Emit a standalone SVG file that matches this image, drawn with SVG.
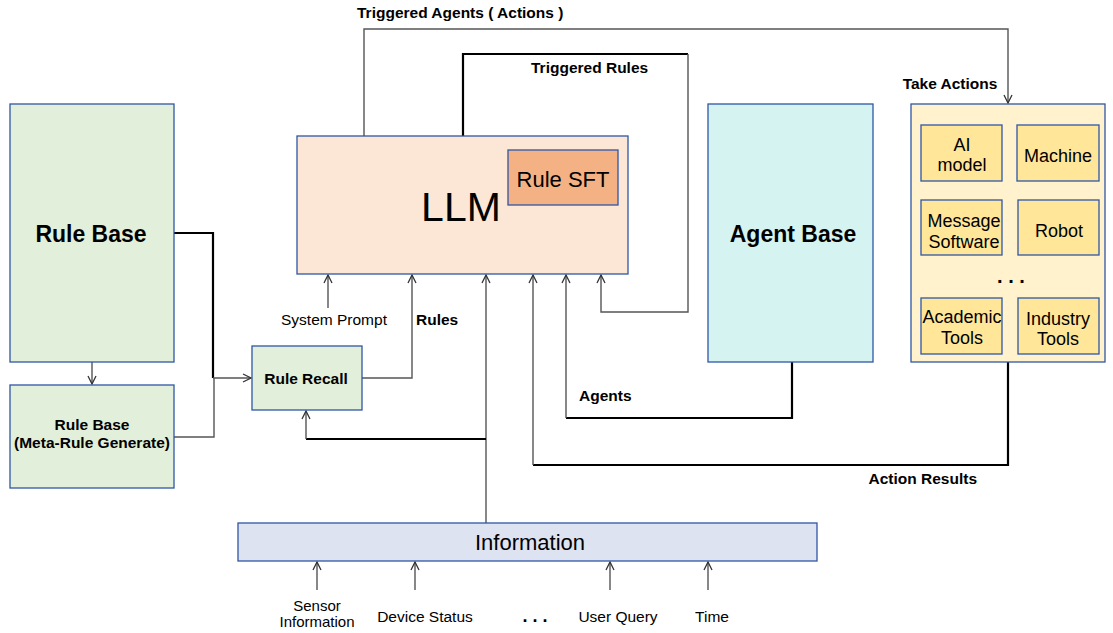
<svg xmlns="http://www.w3.org/2000/svg" width="1113" height="633" viewBox="0 0 1113 633">
<defs>
<style>
text{font-family:"Liberation Sans",Arial,Helvetica,sans-serif;fill:#000}
.b{font-weight:bold}
.box{stroke:#2F56A6;stroke-width:1.3}
.thin{fill:none;stroke:#555;stroke-width:1.4}
.thick{fill:none;stroke:#000;stroke-width:2.2}
.tool{fill:#FFE699;stroke:#2F56A6;stroke-width:1.3}
</style>
<marker id="arr" viewBox="0 0 10 10" refX="9" refY="5" markerWidth="10" markerHeight="10" markerUnits="userSpaceOnUse" orient="auto">
<path d="M1,1 L9,5 L1,9" fill="none" stroke="#333" stroke-width="1.3"/>
</marker>
</defs>
<rect width="1113" height="633" fill="#fff"/>

<g id="connectors">
<path class="thin" d="M364,136 V29 H1008 V103" marker-end="url(#arr)"/>
<path class="thick" d="M463,136 V54 H688"/>
<path class="thin" d="M688,54 V312 H601 V275" marker-end="url(#arr)"/>
<path class="thin" d="M328,308 V275" marker-end="url(#arr)"/>
<path class="thin" d="M362,378 H412 V275" marker-end="url(#arr)"/>
<path class="thin" d="M486,523 V275" marker-end="url(#arr)"/>
<path class="thick" d="M486,439 H306"/>
<path class="thin" d="M306,439 V411" marker-end="url(#arr)"/>
<path class="thick" d="M792,362 V418 H566"/>
<path class="thin" d="M566,418 V275" marker-end="url(#arr)"/>
<path class="thick" d="M1008,362 V465 H533"/>
<path class="thin" d="M533,465 V275" marker-end="url(#arr)"/>
<path class="thick" d="M174,233 H213 V378"/>
<path class="thin" d="M213,378 H251" marker-end="url(#arr)"/>
<path class="thin" d="M174,437 H214 V378"/>
<path class="thin" d="M92,362 V384" marker-end="url(#arr)"/>
<path class="thin" d="M317,590 V562" marker-end="url(#arr)"/>
<path class="thin" d="M415,590 V562" marker-end="url(#arr)"/>
<path class="thin" d="M610,590 V562" marker-end="url(#arr)"/>
<path class="thin" d="M708,590 V562" marker-end="url(#arr)"/>
</g>

<g id="edge-labels">
<text class="b" x="357" y="18" font-size="15.5">Triggered Agents ( Actions )</text>
<text class="b" x="531" y="73" font-size="15.5">Triggered Rules</text>
<text x="334" y="325" font-size="15.5" text-anchor="middle">System Prompt</text>
<text class="b" x="416" y="325" font-size="15.5">Rules</text>
<text class="b" x="579" y="401" font-size="15.5">Agents</text>
<text class="b" x="977" y="484" font-size="15.5" text-anchor="end">Action Results</text>
<text class="b" x="950" y="89" font-size="15.5" text-anchor="middle">Take Actions</text>
</g>

<g id="rule-base">
<rect class="box" x="10" y="104" width="164" height="258" fill="#E2EFDA"/>
<text class="b" x="91" y="242" font-size="23" text-anchor="middle">Rule Base</text>
</g>

<g id="rule-base-meta">
<rect class="box" x="10" y="385" width="164" height="103" fill="#E2EFDA"/>
<text class="b" x="92" y="430" font-size="15.5" text-anchor="middle">Rule Base</text>
<text class="b" x="92" y="448" font-size="15.5" text-anchor="middle">(Meta-Rule Generate)</text>
</g>

<g id="rule-recall">
<rect class="box" x="252" y="346" width="110" height="64" fill="#E2EFDA"/>
<text class="b" x="306" y="384" font-size="15.5" text-anchor="middle">Rule Recall</text>
</g>

<g id="llm">
<rect class="box" x="297" y="136" width="331" height="138" fill="#FCE6D6"/>
<text x="461" y="221" font-size="41" text-anchor="middle">LLM</text>
</g>

<g id="rule-sft">
<rect class="box" x="508" y="150" width="110" height="55" fill="#F4B183"/>
<text x="563" y="187" font-size="22" text-anchor="middle">Rule SFT</text>
</g>

<g id="agent-base">
<rect class="box" x="708" y="104" width="165" height="258" fill="#D5F3F1"/>
<text class="b" x="793" y="242" font-size="23" text-anchor="middle">Agent Base</text>
</g>

<g id="actions">
<rect class="box" x="911" y="104" width="194" height="258" fill="#FFF2CC"/>
<text x="1011" y="283" font-size="20" text-anchor="middle" class="b">. . .</text>
</g>
<g id="ai-model">
<rect class="tool" x="921" y="125" width="81" height="56"/>
<text x="962" y="151" font-size="18" text-anchor="middle">AI</text>
<text x="962" y="171" font-size="18" text-anchor="middle">model</text>
</g>
<g id="machine">
<rect class="tool" x="1017" y="125" width="82" height="56"/>
<text x="1058" y="162" font-size="18" text-anchor="middle">Machine</text>
</g>
<g id="message-software">
<rect class="tool" x="921" y="200" width="81" height="55"/>
<text x="964" y="227" font-size="18" text-anchor="middle">Message</text>
<text x="964" y="248" font-size="18" text-anchor="middle">Software</text>
</g>
<g id="robot">
<rect class="tool" x="1018" y="200" width="81" height="55"/>
<text x="1059" y="237" font-size="18" text-anchor="middle">Robot</text>
</g>
<g id="academic-tools">
<rect class="tool" x="921" y="298" width="81" height="56"/>
<text x="962" y="323" font-size="18" text-anchor="middle">Academic</text>
<text x="962" y="344" font-size="18" text-anchor="middle">Tools</text>
</g>
<g id="industry-tools">
<rect class="tool" x="1018" y="298" width="81" height="56"/>
<text x="1058" y="325" font-size="18" text-anchor="middle">Industry</text>
<text x="1058" y="345" font-size="18" text-anchor="middle">Tools</text>
</g>

<g id="information">
<rect class="box" x="238" y="523" width="579" height="38" fill="#DEE3F1"/>
<text x="530" y="550" font-size="22" text-anchor="middle">Information</text>
</g>

<g id="input-labels">
<text x="317" y="611" font-size="15" text-anchor="middle">Sensor</text>
<text x="317" y="627" font-size="15" text-anchor="middle">Information</text>
<text x="425" y="622" font-size="15.5" text-anchor="middle">Device Status</text>
<text x="535" y="622" font-size="18" text-anchor="middle" class="b">. . .</text>
<text x="618" y="622" font-size="15.5" text-anchor="middle">User Query</text>
<text x="712" y="622" font-size="15.5" text-anchor="middle">Time</text>
</g>
</svg>
